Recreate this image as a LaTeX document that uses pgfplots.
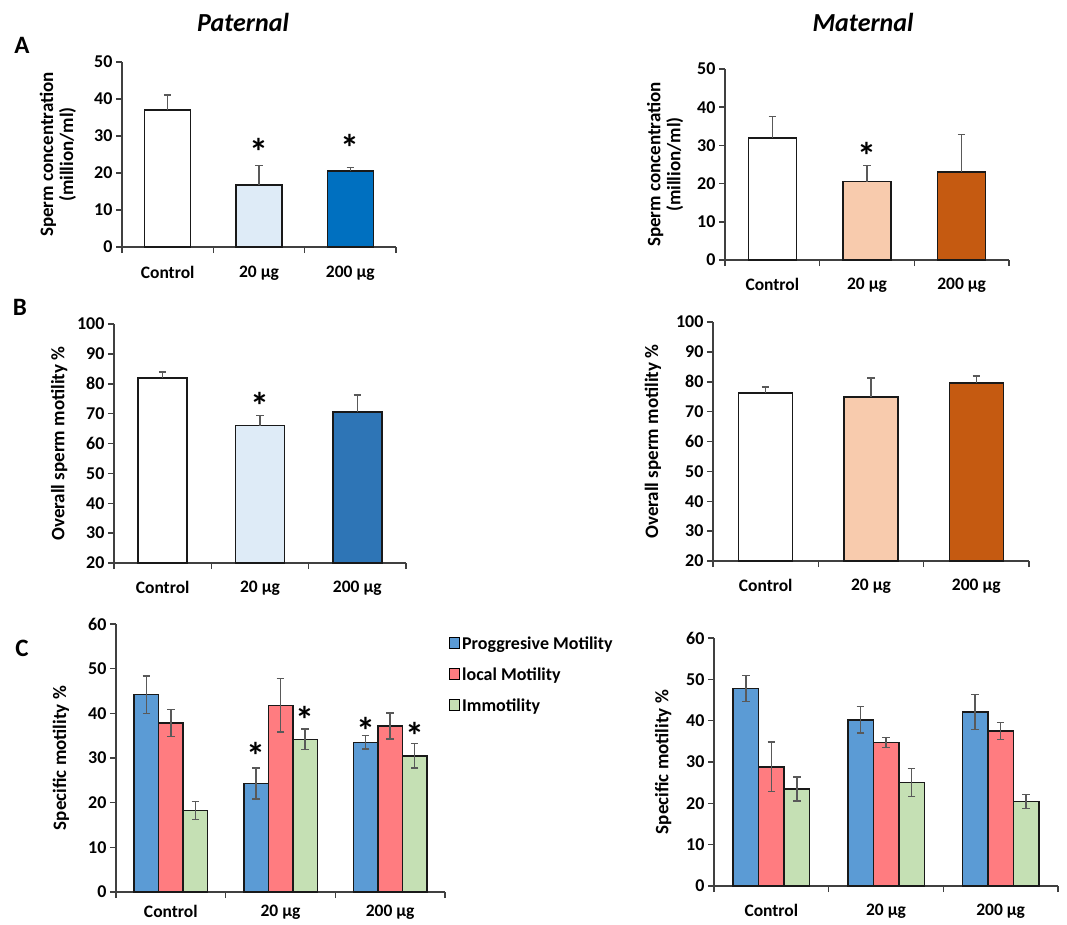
\documentclass[border=0pt]{standalone}
\usepackage{pgfplots}
\pgfplotsset{compat=1.18}
\usepackage{fontspec}
\setmainfont{Carlito}
\definecolor{axgray}{HTML}{404040}
\definecolor{errgray}{HTML}{595959}
\definecolor{pbluelight}{HTML}{DEEBF7}
\definecolor{pblueA}{HTML}{0070C0}
\definecolor{pblueB}{HTML}{2E75B6}
\definecolor{mpeach}{HTML}{F8CBAD}
\definecolor{mbrown}{HTML}{C55A11}
\definecolor{cblue}{HTML}{5B9BD5}
\definecolor{cred}{HTML}{FF7C80}
\definecolor{cgreen}{HTML}{C5E0B4}
\tikzset{sig/.style={font=\bfseries\fontsize{38}{38}\selectfont, anchor=base, yshift=-21pt, inner sep=0pt}}
\pgfplotsset{
  panel/.style={
    scale only axis, anchor=south west,
    axis lines=left, axis line style={-, draw=axgray, line width=1.5pt},
    xmin=0.5, xmax=3.5,
    xtick={0.5,1.5,2.5,3.5}, xticklabels={},
    extra x ticks={1,2,3}, extra x tick labels={Control,20 µg,200 µg},
    extra x tick style={major tick length=0pt},
    tick align=outside, major tick length=6pt,
    tick style={draw=axgray, line width=1.5pt},
    xticklabel style={font=\bfseries\fontsize{17.5}{17.5}\selectfont, inner sep=0pt, text depth=0pt, yshift=-18pt},
    yticklabel style={font=\bfseries\fontsize{18}{18}\selectfont},
    ylabel style={font=\bfseries\fontsize{19}{20}\selectfont, align=center, anchor=center},
    /pgf/number format/assume math mode=true,
    clip=false,
  },
  bars/.style={ybar, bar shift=0pt, draw=black!90, line width=1.5pt, fill=#1,
    error bars/y dir=plus, error bars/y explicit,
    error bars/error bar style={draw=errgray, line width=1.4pt},
    error bars/error mark options={rotate=90, mark size=3.8pt, draw=errgray, line width=1.4pt}},
  cbars/.style={draw=black!90, line width=1.5pt, fill=#1,
    legend image code/.code={\draw[draw=black, line width=1pt, fill=#1] (0pt,-4pt) rectangle (10pt,6.5pt);},
    error bars/y dir=both, error bars/y explicit,
    error bars/error bar style={draw=errgray, line width=1.4pt},
    error bars/error mark options={rotate=90, mark size=3.8pt, draw=errgray, line width=1.4pt}},
}
\begin{document}
\begin{tikzpicture}
\useasboundingbox (0pt,0pt) rectangle (1067pt,-924pt);
% titles
\node[font=\bfseries\itshape\fontsize{26}{26}\selectfont] at (243pt,-22pt) {Paternal};
\node[font=\bfseries\itshape\fontsize{26}{26}\selectfont] at (863pt,-22pt) {Maternal};
\node[font=\bfseries\fontsize{25}{25}\selectfont] at (22pt,-45pt) {A};
\node[font=\bfseries\fontsize{25}{25}\selectfont] at (20pt,-307pt) {B};
\node[font=\bfseries\fontsize{25}{25}\selectfont] at (22pt,-648pt) {C};

% ---------- A paternal
\begin{axis}[panel, at={(122pt,-247pt)}, width=274pt, height=185pt,
  ymin=0, ymax=50, ytick={0,10,...,50},
  xticklabel style={yshift=-1pt},
  ylabel={Sperm concentration\\(million/ml)},
  ylabel style={at={(axis description cs:-0.234,0.5)}}]
\addplot[bar width=46pt, bars=white] coordinates {(1,37.0) +- (0,4.1)};
\addplot[bar width=46pt, bars=pbluelight] coordinates {(2,16.8) +- (0,5.2)};
\addplot[bar width=46pt, bars=pblueA] coordinates {(3,20.5) +- (0,1.0)};
\node[sig] at (axis cs:2,27.6) {*};
\node[sig] at (axis cs:3,28.9) {*};
\end{axis}

% ---------- A maternal
\begin{axis}[panel, at={(725pt,-260pt)}, width=284pt, height=191pt,
  ymin=0, ymax=50, ytick={0,10,...,50},
  ylabel={Sperm concentration\\(million/ml)},
  ylabel style={at={(axis description cs:-0.211,0.5)}}]
\addplot[bar width=48pt, bars=white] coordinates {(1,32.0) +- (0,5.6)};
\addplot[bar width=48pt, bars=mpeach] coordinates {(2,20.5) +- (0,4.2)};
\addplot[bar width=48pt, bars=mbrown] coordinates {(3,23.0) +- (0,9.9)};
\node[sig] at (axis cs:2,29.3) {*};
\end{axis}

% ---------- B paternal
\begin{axis}[panel, at={(114pt,-563pt)}, width=292pt, height=239pt,
  ymin=20, ymax=100, ytick={20,30,...,100},
  ylabel={Overall sperm motility \%},
  ylabel style={at={(axis description cs:-0.188,0.5)}}]
\addplot[bar width=49pt, bars=white] coordinates {(1,81.9) +- (0,2.0)};
\addplot[bar width=49pt, bars=pbluelight] coordinates {(2,66.0) +- (0,3.4)};
\addplot[bar width=49pt, bars=pblueB] coordinates {(3,70.5) +- (0,5.7)};
\node[sig] at (axis cs:2,75.2) {*};
\end{axis}

% ---------- B maternal
\begin{axis}[panel, at={(713pt,-561pt)}, width=316pt, height=239pt,
  ymin=20, ymax=100, ytick={20,30,...,100},
  ylabel={Overall sperm motility \%},
  ylabel style={at={(axis description cs:-0.190,0.5)}}]
\addplot[bar width=54pt, bars=white] coordinates {(1,76.3) +- (0,2.0)};
\addplot[bar width=54pt, bars=mpeach] coordinates {(2,74.9) +- (0,6.4)};
\addplot[bar width=54pt, bars=mbrown] coordinates {(3,79.6) +- (0,2.3)};
\end{axis}

% ---------- C paternal
\begin{axis}[panel, at={(116pt,-892pt)}, width=329pt, height=268pt,
  ymin=0, ymax=60, ytick={0,10,...,60},
  ybar=0pt, bar width=24.5pt,
  xticklabel style={yshift=5pt},
  ylabel={Specific motility \%},
  ylabel style={at={(axis description cs:-0.167,0.5)}},
  legend style={at={(rel axis cs:1.012,0.96)}, anchor=north west, draw=none, fill=none,
    inner sep=0pt, row sep=13pt, font=\bfseries\fontsize{18}{21}\selectfont,
    /tikz/every even column/.append style={column sep=1pt}},
  legend cell align=left]
\addplot[cbars=cblue] coordinates {(1,44.2) +- (0,4.2) (2,24.3) +- (0,3.5) (3,33.5) +- (0,1.5)};
\addplot[cbars=cred] coordinates {(1,37.8) +- (0,3.0) (2,41.8) +- (0,6.0) (3,37.2) +- (0,2.9)};
\addplot[cbars=cgreen] coordinates {(1,18.2) +- (0,2.0) (2,34.2) +- (0,2.3) (3,30.5) +- (0,2.7)};
\legend{Proggresive Motility, local Motility, Immotility}
\node[sig] at (axis cs:1.776,32.2) {*};
\node[sig] at (axis cs:2.224,40.3) {*};
\node[sig] at (axis cs:2.776,37.8) {*};
\node[sig] at (axis cs:3.224,36.5) {*};
\end{axis}

% ---------- C maternal
\begin{axis}[panel, at={(714pt,-886pt)}, width=344pt, height=248pt,
  ymin=0, ymax=60, ytick={0,10,...,60},
  ybar=0pt, bar width=25.5pt,
  ylabel={Specific motility \%},
  ylabel style={at={(axis description cs:-0.148,0.5)}}]
\addplot[cbars=cblue] coordinates {(1,47.8) +- (0,3.1) (2,40.2) +- (0,3.2) (3,42.1) +- (0,4.3)};
\addplot[cbars=cred] coordinates {(1,28.8) +- (0,6.0) (2,34.7) +- (0,1.2) (3,37.5) +- (0,2.0)};
\addplot[cbars=cgreen] coordinates {(1,23.5) +- (0,2.9) (2,25.1) +- (0,3.4) (3,20.5) +- (0,1.7)};
\end{axis}
\end{tikzpicture}
\end{document}
